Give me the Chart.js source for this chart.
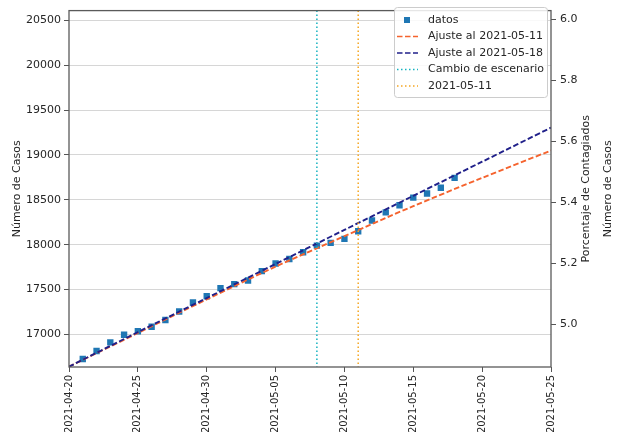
<!DOCTYPE html>
<html>
<head>
<meta charset="utf-8">
<script src="https://cdn.jsdelivr.net/npm/chart.js@4.4.0/dist/chart.umd.min.js"></script>
<style>
html,body{margin:0;padding:0;background:#fff;}
canvas{display:block;}
</style>
</head>
<body>
<canvas id="myChart" width="618" height="432"></canvas>
<script>
const inicio = '2021-04-20';

const fechasDatos = ['2021-04-21','2021-04-22','2021-04-23','2021-04-24','2021-04-25','2021-04-26','2021-04-27',
  '2021-04-28','2021-04-29','2021-04-30','2021-05-01','2021-05-02','2021-05-03','2021-05-04','2021-05-05',
  '2021-05-06','2021-05-07','2021-05-08','2021-05-09','2021-05-10','2021-05-11','2021-05-12','2021-05-13',
  '2021-05-14','2021-05-15','2021-05-16','2021-05-17','2021-05-18'];
const casosDatos = [16725,16815,16910,16995,17035,17085,17160,17255,17355,17425,17515,17560,17600,17705,17790,
  17840,17915,17990,18020,18065,18150,18270,18360,18440,18525,18570,18635,18745];

const fechasAjuste = ['2021-04-20','2021-04-25','2021-04-30','2021-05-05','2021-05-10','2021-05-15','2021-05-20','2021-05-25'];
const ajuste0511 = [16640,17015,17390,17755,18095,18430,18745,19050];
const ajuste0518 = [16640,17025,17405,17785,18165,18545,18925,19305];

const fechasTicks = ['2021-04-20','2021-04-25','2021-04-30','2021-05-05','2021-05-10','2021-05-15','2021-05-20','2021-05-25'];
const casosTicks = [17000,17500,18000,18500,19000,19500,20000,20500];
const porcentajeTicks = [5.0,5.2,5.4,5.6,5.8,6.0];

const fechaCambio = '2021-05-08';
const fechaCorte = '2021-05-11';

const etiquetas = ['datos','Ajuste al 2021-05-11','Ajuste al 2021-05-18','Cambio de escenario','2021-05-11'];

const colorDatos = '#1f77b4';
const colorNaranja = '#f5632e';
const colorAzul = '#20208a';
const colorCian = '#17b3c0';
const colorOro = '#f5a623';

// dias desde el inicio
function dia(f){
    return (Date.parse(f) - Date.parse(inicio)) / 86400000;
}

Chart.defaults.font.family = 'DejaVu Sans';
Chart.defaults.color = '#262626';

const extras = {
    id: 'extras',
    afterDatasetsDraw(chart){
        const {ctx, chartArea: a, scales} = chart;
        ctx.save();
        // lineas verticales
        const verticales = [[fechaCambio, colorCian],[fechaCorte, colorOro]];
        verticales.forEach(([f,c])=>{
            const x = scales.x.getPixelForValue(dia(f));
            ctx.beginPath();
            ctx.strokeStyle = c;
            ctx.lineWidth = 1.5;
            ctx.setLineDash([1.5,2.5]);
            ctx.moveTo(x, a.top);
            ctx.lineTo(x, a.bottom);
            ctx.stroke();
        });
        ctx.setLineDash([]);
        // marco
        ctx.strokeStyle = '#5a5a5a';
        ctx.lineWidth = 1.3;
        ctx.strokeRect(a.left, a.top, a.right - a.left, a.bottom - a.top);
        ctx.restore();
    },
    afterDraw(chart){
        const {ctx, chartArea: a} = chart;
        ctx.save();
        // leyenda
        const bx = 394, by = 7, bw = 153, bh = 90;
        ctx.fillStyle = 'rgba(255,255,255,0.85)';
        ctx.strokeStyle = '#cccccc';
        ctx.lineWidth = 1;
        ctx.beginPath();
        ctx.roundRect(bx + 0.5, by + 0.5, bw, bh, 3);
        ctx.fill();
        ctx.stroke();
        const estilos = [
            {marca: true, color: colorDatos},
            {color: colorNaranja, dash: [5.5,2.5]},
            {color: colorAzul, dash: [5.5,2.5]},
            {color: colorCian, dash: [1.5,2.5]},
            {color: colorOro, dash: [1.5,2.5]}
        ];
        ctx.font = '11px "DejaVu Sans"';
        ctx.textBaseline = 'middle';
        etiquetas.forEach((t,i)=>{
            const y = 20 + i * 16.5;
            const e = estilos[i];
            if(e.marca){
                ctx.fillStyle = e.color;
                ctx.fillRect(404, y - 3, 6, 6);
            } else {
                ctx.beginPath();
                ctx.strokeStyle = e.color;
                ctx.lineWidth = 1.6;
                ctx.setLineDash(e.dash);
                ctx.moveTo(397, y);
                ctx.lineTo(418, y);
                ctx.stroke();
                ctx.setLineDash([]);
            }
            ctx.fillStyle = '#262626';
            ctx.fillText(t, 428, y);
        });
        // titulos de los ejes
        const cy = (a.top + a.bottom) / 2;
        ctx.font = '11px "DejaVu Sans"';
        ctx.textAlign = 'center';
        ctx.fillStyle = '#262626';
        [['Número de Casos',17],['Porcentaje de Contagiados',586],['Número de Casos',608]].forEach(([t,x])=>{
            ctx.save();
            ctx.translate(x, cy);
            ctx.rotate(-Math.PI/2);
            ctx.fillText(t, 0, 0);
            ctx.restore();
        });
        ctx.restore();
    }
};

const ctx = document.getElementById('myChart').getContext('2d');
const chartInstance = new Chart(ctx, {
    type: 'line',
    data: {
        datasets: [{
            label: etiquetas[0],
            data: fechasDatos.map((f,i)=>({x: dia(f), y: casosDatos[i]})),
            showLine: false,
            pointStyle: 'rect',
            pointRadius: 4.5,
            pointBackgroundColor: colorDatos,
            pointBorderWidth: 0,
            order: 3
        },{
            label: etiquetas[1],
            data: fechasAjuste.map((f,i)=>({x: dia(f), y: ajuste0511[i]})),
            borderColor: colorNaranja,
            borderWidth: 1.9,
            borderDash: [5.5,2.5],
            pointRadius: 0,
            tension: 0.3,
            order: 2
        },{
            label: etiquetas[2],
            data: fechasAjuste.map((f,i)=>({x: dia(f), y: ajuste0518[i]})),
            borderColor: colorAzul,
            borderWidth: 1.9,
            borderDash: [5.5,2.5],
            pointRadius: 0,
            tension: 0.3,
            order: 1
        }]
    },
    options: {
        responsive: false,
        animation: false,
        devicePixelRatio: 1,
        layout: {padding: {top: 6, left: 0, right: 0, bottom: 0}},
        plugins: {legend: {display: false}, tooltip: {enabled: false}},
        scales: {
            x: {
                type: 'linear',
                min: 0,
                max: dia('2021-05-25'),
                afterBuildTicks: s => { s.ticks = fechasTicks.map(f => ({value: dia(f)})); },
                afterFit: s => { s.height = 65; },
                ticks: {
                    autoSkip: false,
                    minRotation: 90,
                    maxRotation: 90,
                    padding: 3,
                    font: {size: 10},
                    callback: (v, i) => fechasTicks[i]
                },
                grid: {drawOnChartArea: false, tickLength: 5, tickColor: '#555'},
                border: {display: false}
            },
            y: {
                position: 'left',
                min: 16636,
                max: 20610,
                afterBuildTicks: s => { s.ticks = casosTicks.map(v => ({value: v})); },
                afterFit: s => { s.width = 69; },
                ticks: {padding: 3, font: {size: 11}, callback: v => String(v)},
                grid: {color: '#d6d6d6', tickLength: 5, tickColor: '#555'},
                border: {display: false}
            },
            y1: {
                position: 'right',
                min: 4.861,
                max: 6.029,
                afterBuildTicks: s => { s.ticks = porcentajeTicks.map(v => ({value: v})); },
                afterFit: s => { s.width = 67; },
                ticks: {padding: 4, font: {size: 11}, callback: v => v.toFixed(1)},
                grid: {drawOnChartArea: false, tickLength: 5, tickColor: '#555'},
                border: {display: false}
            }
        }
    },
    plugins: [extras]
});
</script>
</body>
</html>
